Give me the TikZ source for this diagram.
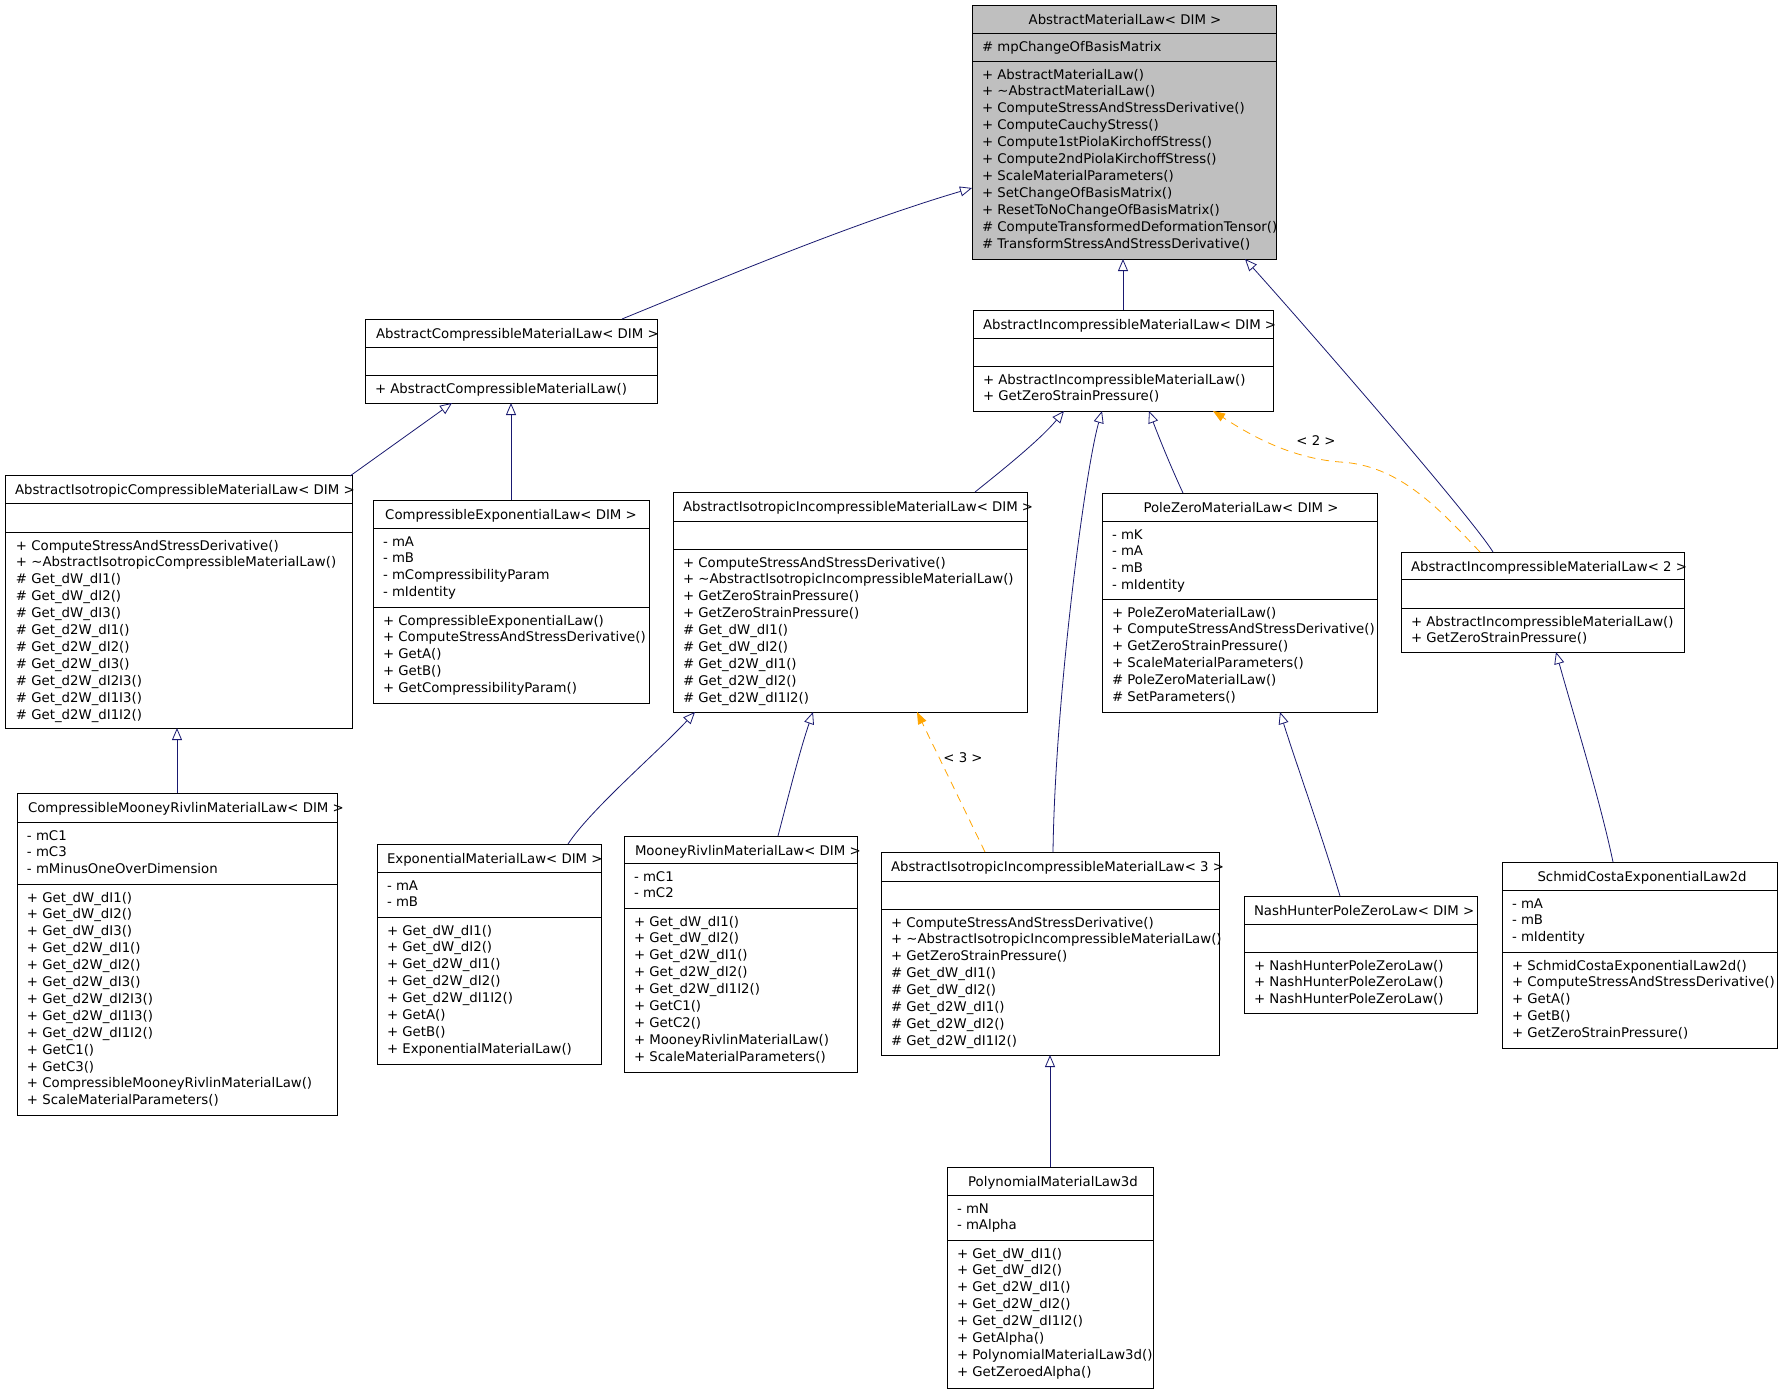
\documentclass[tikz,border=0pt]{standalone}
\usepackage{fontspec}
\setmainfont{DejaVu Sans}
\usetikzlibrary{arrows.meta,fit}
\definecolor{navyc}{HTML}{191970}
\definecolor{orngc}{HTML}{FFA500}
\definecolor{grayc}{HTML}{BFBFBF}
% class box: [fill]{name}{left}{top}{right}{bottom}{separator ys}
\newcommand\clsbox[7][white]{%
  \node[cls,fill=#1,fit={(#3,#4) (#5,#6)}] (#2) {};
  \foreach \sy in {#7} {\draw[sepl] (#2.west |- 0,\sy) -- (#2.east |- 0,\sy);}
}
% text lines: {name prefix}{anchor}{x}{first baseline y}{lines}
\newcommand\clslines[5]{%
  \foreach \tx [count=\ix] in {#5} {\node[txt,anchor=#2] (#1\ix) at (#3,{#4+(\ix-1)*16.9}) {\tx};}
}
\begin{document}
\begin{tikzpicture}[x=1pt,y=-1pt,
  cls/.style={draw=black,line width=0.8pt,inner sep=0pt,outer sep=0pt,rectangle},
  sepl/.style={draw=black,line width=0.8pt},
  txt/.style={inner sep=0pt,outer sep=0pt,font=\fontsize{13.3}{16}\selectfont,text=black},
  inh/.style={draw=navyc,line width=0.8pt,-{Triangle[open,length=12pt,width=10pt]}},
  tmpl/.style={draw=orngc,line width=0.8pt,dash pattern=on 8pt off 6pt,-{Triangle[length=12pt,width=9pt]}},
  lbl/.style={inner sep=1pt,font=\fontsize{13.3}{16}\selectfont,text=black}]
\useasboundingbox (0,0) rectangle (1781,1392);
\fill[white] (0,0) rectangle (1781,1392);

% AbstractMaterialLaw
\clsbox[grayc]{aml}{972}{5}{1276}{259}{33,61}
\node[txt,anchor=base] (amlT) at (1125,24) {AbstractMaterialLaw< DIM >};
\clslines{amlA}{base west}{982}{51}{\# mpChangeOfBasisMatrix}
\clslines{amlM}{base west}{982}{79}{+ AbstractMaterialLaw(),+ \textasciitilde AbstractMaterialLaw(),+ ComputeStressAndStressDerivative(),+ ComputeCauchyStress(),+ Compute1stPiolaKirchoffStress(),+ Compute2ndPiolaKirchoffStress(),+ ScaleMaterialParameters(),+ SetChangeOfBasisMatrix(),+ ResetToNoChangeOfBasisMatrix(),\# ComputeTransformedDeformationTensor(),\# TransformStressAndStressDerivative()}

% AbstractCompressibleMaterialLaw
\clsbox{acml}{365}{319}{657}{403}{347,375}
\node[txt,anchor=base west] (acmlT) at (376,338) {AbstractCompressibleMaterialLaw< DIM >};
\clslines{acmlM}{base west}{375}{393}{+ AbstractCompressibleMaterialLaw()}

% AbstractIncompressibleMaterialLaw<DIM>
\clsbox{aimld}{973}{310}{1273}{411}{338,366}
\node[txt,anchor=base west] (aimldT) at (983,329) {AbstractIncompressibleMaterialLaw< DIM >};
\clslines{aimldM}{base west}{983}{384}{+ AbstractIncompressibleMaterialLaw(),+ GetZeroStrainPressure()}

% AbstractIsotropicCompressibleMaterialLaw
\clsbox{aicml}{5}{475}{352}{728}{503,532}
\node[txt,anchor=base west] (aicmlT) at (15,494) {AbstractIsotropicCompressibleMaterialLaw< DIM >};
\clslines{aicmlM}{base west}{16}{550}{+ ComputeStressAndStressDerivative(),+ \textasciitilde AbstractIsotropicCompressibleMaterialLaw(),\# Get\_dW\_dI1(),\# Get\_dW\_dI2(),\# Get\_dW\_dI3(),\# Get\_d2W\_dI1(),\# Get\_d2W\_dI2(),\# Get\_d2W\_dI3(),\# Get\_d2W\_dI2I3(),\# Get\_d2W\_dI1I3(),\# Get\_d2W\_dI1I2()}

% CompressibleExponentialLaw
\clsbox{cel}{373}{500}{649}{703}{528,607}
\node[txt,anchor=base] (celT) at (511,519) {CompressibleExponentialLaw< DIM >};
\clslines{celA}{base west}{383}{546}{- mA,- mB,- mCompressibilityParam,- mIdentity}
\clslines{celM}{base west}{383}{625}{+ CompressibleExponentialLaw(),+ ComputeStressAndStressDerivative(),+ GetA(),+ GetB(),+ GetCompressibilityParam()}

% AbstractIsotropicIncompressibleMaterialLaw<DIM>
\clsbox{aiiml}{673}{492}{1027}{712}{521,549}
\node[txt,anchor=base west] (aiimlT) at (683,511) {AbstractIsotropicIncompressibleMaterialLaw< DIM >};
\clslines{aiimlM}{base west}{683}{567}{+ ComputeStressAndStressDerivative(),+ \textasciitilde AbstractIsotropicIncompressibleMaterialLaw(),+ GetZeroStrainPressure(),+ GetZeroStrainPressure(),\# Get\_dW\_dI1(),\# Get\_dW\_dI2(),\# Get\_d2W\_dI1(),\# Get\_d2W\_dI2(),\# Get\_d2W\_dI1I2()}

% PoleZeroMaterialLaw
\clsbox{pz}{1102}{493}{1377}{712}{521,599}
\node[txt,anchor=base] (pzT) at (1241,512) {PoleZeroMaterialLaw< DIM >};
\clslines{pzA}{base west}{1112}{539}{- mK,- mA,- mB,- mIdentity}
\clslines{pzM}{base west}{1112}{617}{+ PoleZeroMaterialLaw(),+ ComputeStressAndStressDerivative(),+ GetZeroStrainPressure(),+ ScaleMaterialParameters(),\# PoleZeroMaterialLaw(),\# SetParameters()}

% AbstractIncompressibleMaterialLaw<2>
\clsbox{aiml2}{1401}{552}{1684}{652}{579,608}
\node[txt,anchor=base west] (aiml2T) at (1411,571) {AbstractIncompressibleMaterialLaw< 2 >};
\clslines{aiml2M}{base west}{1411}{626}{+ AbstractIncompressibleMaterialLaw(),+ GetZeroStrainPressure()}

% CompressibleMooneyRivlinMaterialLaw
\clsbox{cmr}{17}{793}{337}{1115}{822,884}
\node[txt,anchor=base west] (cmrT) at (28,812) {CompressibleMooneyRivlinMaterialLaw< DIM >};
\clslines{cmrA}{base west}{27}{840}{- mC1,- mC3,- mMinusOneOverDimension}
\clslines{cmrM}{base west}{27}{902}{+ Get\_dW\_dI1(),+ Get\_dW\_dI2(),+ Get\_dW\_dI3(),+ Get\_d2W\_dI1(),+ Get\_d2W\_dI2(),+ Get\_d2W\_dI3(),+ Get\_d2W\_dI2I3(),+ Get\_d2W\_dI1I3(),+ Get\_d2W\_dI1I2(),+ GetC1(),+ GetC3(),+ CompressibleMooneyRivlinMaterialLaw(),+ ScaleMaterialParameters()}

% ExponentialMaterialLaw
\clsbox{eml}{377}{844}{601}{1064}{872,917}
\node[txt,anchor=base west] (emlT) at (387,863) {ExponentialMaterialLaw< DIM >};
\clslines{emlA}{base west}{387}{890}{- mA,- mB}
\clslines{emlM}{base west}{387}{935}{+ Get\_dW\_dI1(),+ Get\_dW\_dI2(),+ Get\_d2W\_dI1(),+ Get\_d2W\_dI2(),+ Get\_d2W\_dI1I2(),+ GetA(),+ GetB(),+ ExponentialMaterialLaw()}

% MooneyRivlinMaterialLaw
\clsbox{mr}{624}{836}{857}{1072}{863,908}
\node[txt,anchor=base west] (mrT) at (635,855) {MooneyRivlinMaterialLaw< DIM >};
\clslines{mrA}{base west}{634}{881}{- mC1,- mC2}
\clslines{mrM}{base west}{634}{926}{+ Get\_dW\_dI1(),+ Get\_dW\_dI2(),+ Get\_d2W\_dI1(),+ Get\_d2W\_dI2(),+ Get\_d2W\_dI1I2(),+ GetC1(),+ GetC2(),+ MooneyRivlinMaterialLaw(),+ ScaleMaterialParameters()}

% AbstractIsotropicIncompressibleMaterialLaw<3>
\clsbox{aiiml3}{881}{852}{1219}{1055}{881,909}
\node[txt,anchor=base west] (aiiml3T) at (891,871) {AbstractIsotropicIncompressibleMaterialLaw< 3 >};
\clslines{aiiml3M}{base west}{891}{927}{+ ComputeStressAndStressDerivative(),+ \textasciitilde AbstractIsotropicIncompressibleMaterialLaw(),+ GetZeroStrainPressure(),\# Get\_dW\_dI1(),\# Get\_dW\_dI2(),\# Get\_d2W\_dI1(),\# Get\_d2W\_dI2(),\# Get\_d2W\_dI1I2()}

% NashHunterPoleZeroLaw
\clsbox{nh}{1244}{896}{1477}{1013}{924,952}
\node[txt,anchor=base west] (nhT) at (1254,915) {NashHunterPoleZeroLaw< DIM >};
\clslines{nhM}{base west}{1254}{970}{+ NashHunterPoleZeroLaw(),+ NashHunterPoleZeroLaw(),+ NashHunterPoleZeroLaw()}

% SchmidCostaExponentialLaw2d
\clsbox{sc}{1502}{862}{1777}{1048}{890,952}
\node[txt,anchor=base] (scT) at (1642,881) {SchmidCostaExponentialLaw2d};
\clslines{scA}{base west}{1512}{908}{- mA,- mB,- mIdentity}
\clslines{scM}{base west}{1512}{970}{+ SchmidCostaExponentialLaw2d(),+ ComputeStressAndStressDerivative(),+ GetA(),+ GetB(),+ GetZeroStrainPressure()}

% PolynomialMaterialLaw3d
\clsbox{pml}{947}{1167}{1153}{1388}{1195,1240}
\node[txt,anchor=base] (pmlT) at (1053,1186) {PolynomialMaterialLaw3d};
\clslines{pmlA}{base west}{957}{1213}{- mN,- mAlpha}
\clslines{pmlM}{base west}{957}{1258}{+ Get\_dW\_dI1(),+ Get\_dW\_dI2(),+ Get\_d2W\_dI1(),+ Get\_d2W\_dI2(),+ Get\_d2W\_dI1I2(),+ GetAlpha(),+ PolynomialMaterialLaw3d(),+ GetZeroedAlpha()}

% ---- connectors ----
\draw[inh] ([xshift=257pt]acml.north west) .. controls (720,279) and (850,224) .. ([yshift=-183pt]aml.north west);
\draw[inh] (aimld.north) -- (aml.south -| aimld.north);
\draw[inh] ([xshift=92pt]aiml2.north west) .. controls (1470,515) and (1300,320) .. ([xshift=273pt]aml.south west);
\draw[inh] ([xshift=-2pt,yshift=-1pt]aicml.north east) -- ([xshift=87pt]acml.south west);
\draw[inh] (cel.north) -- (acml.south -| cel.north);
\draw[inh] (cmr.north) -- (aicml.south -| cmr.north);
\draw[inh] ([xshift=302pt]aiiml.north west) .. controls (1000,472) and (1040,440) .. ([xshift=91pt]aimld.south west);
\draw[inh] ([xshift=172pt]aiiml3.north west) .. controls (1055,700) and (1085,470) .. ([xshift=129pt]aimld.south west);
\draw[inh] ([xshift=81pt]pz.north west) .. controls (1170,465) and (1158,435) .. ([xshift=176pt]aimld.south west);
\draw[tmpl] ([xshift=79pt]aiml2.north west) .. controls (1440,510) and (1400,465) .. (1340,462) .. controls (1290,458) and (1250,435) .. ([xshift=240pt]aimld.south west);
\node[lbl] (lab2) at (1316,441) {< 2 >};
\draw[inh] ([xshift=191pt]eml.north west) .. controls (590,810) and (660,750) .. ([xshift=22pt]aiiml.south west);
\draw[inh] ([xshift=154pt]mr.north west) .. controls (790,790) and (800,750) .. ([xshift=140pt]aiiml.south west);
\draw[tmpl] ([xshift=104pt]aiiml3.north west) -- ([xshift=244pt]aiiml.south west);
\node[lbl] (lab3) at (963,758) {< 3 >};
\draw[inh] ([xshift=96pt]nh.north west) .. controls (1320,830) and (1295,760) .. ([xshift=178pt]pz.south west);
\draw[inh] (pml.north) -- (aiiml3.south -| pml.north);
\draw[inh] ([xshift=111pt]sc.north west) .. controls (1600,800) and (1575,720) .. ([xshift=155pt]aiml2.south west);
\end{tikzpicture}
\end{document}
